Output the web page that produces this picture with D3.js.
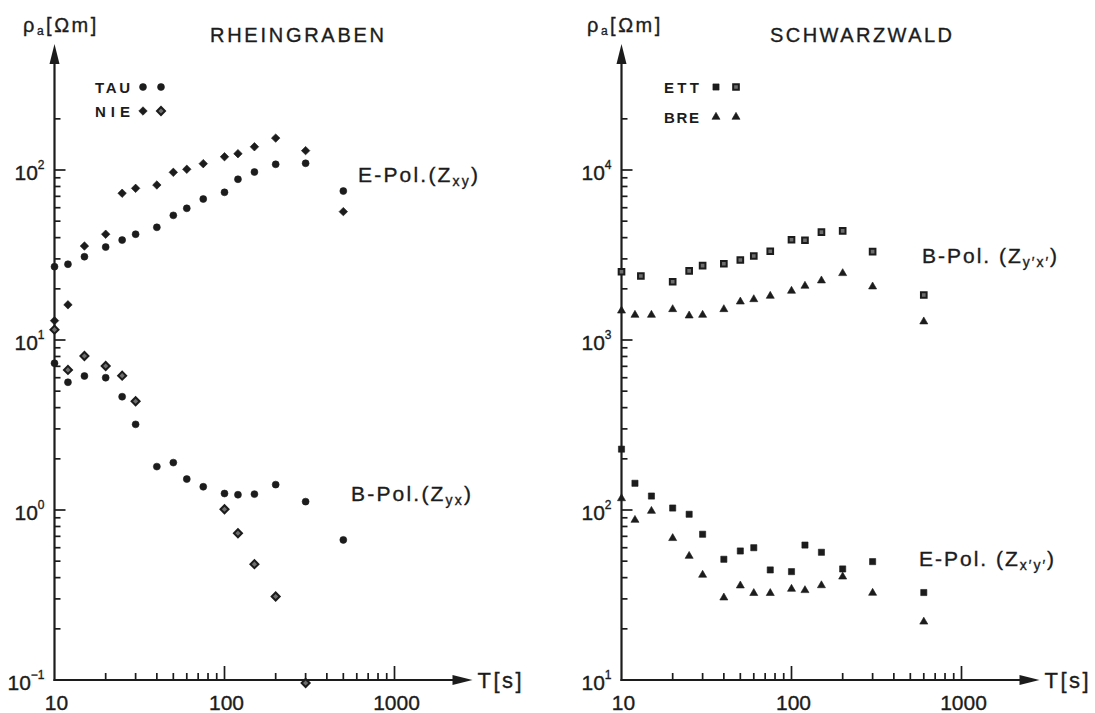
<!DOCTYPE html>
<html><head><meta charset="utf-8">
<script src="https://cdn.jsdelivr.net/npm/d3@7"></script>
<style>body{margin:0;background:#fff;}svg{display:block;}</style>
</head><body>
<script>
// ---------------- data ----------------
const periodsLeft = [10,12,15,20,25,30,40,50,60,75,100,120,150,200,300,500];
const tauEPol = [27,27.9,30.9,35.2,38.7,41.9,46,54.1,59.5,67.5,73.9,88.2,97.3,108,109.5,75.2];
const nieEPol = [13,16.1,35.7,41.9,73,78,81.6,96.9,101,109,119.7,124.7,137,154,130,56.9];
const tauBPol = [7.3,5.64,6.14,6.0,4.64,3.19,1.80,1.90,1.52,1.37,1.25,1.23,1.24,1.41,1.12,0.667];
const nieBPolPeriods = [10,12,15,20,25,30,100,120,150,200,300];
const nieBPol = [11.5,6.67,8.05,7.03,6.17,4.36,1.01,0.73,0.48,0.31,0.096];

const periodsRight = [10,12,15,20,25,30,40,50,60,75,100,120,150,200,300,600];
const ettBPolPeriods = [10,13,20,25,30,40,50,60,75,100,120,150,200,300,600];
const ettBPol = [2520,2380,2200,2550,2740,2810,2955,3120,3325,3890,3860,4310,4380,3310,1840];
const breBPol = [1486,1403,1403,1515,1390,1403,1515,1680,1734,1815,1943,2080,2235,2468,2060,1283];
const ettEPol = [228,143.6,120.8,102.7,94.4,72,51.3,57.4,60,44.4,43.4,62.2,56.4,45,49.7,32.7];
const breEPol = [117,87.3,98.6,68.2,53.6,41.5,30.5,35.9,32.4,32.4,34.3,33.7,36,40.5,32.5,22];

const xTickLabels = ["10","100","1000"];
const yExpLeft = ["-1","0","1","2"];
const yExpRight = ["1","2","3","4"];
const titles = ["RHEINGRABEN","SCHWARZWALD"];

// ---------------- setup ----------------
const W = 1095, H = 713;
const FONT = "'Liberation Sans', Arial, sans-serif";
const INK = "#1c1c1c";
const svg = d3.select("body").append("svg").attr("width", W).attr("height", H);
svg.append("rect").attr("width", W).attr("height", H).attr("fill", "#ffffff");

const panels = [
  { x: d3.scaleLog().domain([10, 1000]).range([54.5, 394.5]),
    y: d3.scaleLog().domain([0.1, 100]).range([680, 170]),
    yTickMax: 200, yExp: yExpLeft, title: titles[0], titleX: 210, titleLen: 174,
    unitX: 23, legendX: 95, legendBase: [93, 117], legendMk: [143, 161] },
  { x: d3.scaleLog().domain([10, 1000]).range([621.5, 961.5]),
    y: d3.scaleLog().domain([10, 10000]).range([680, 170]),
    yTickMax: 20000, yExp: yExpRight, title: titles[1], titleX: 770, titleLen: 182,
    unitX: 587, legendX: 664, legendBase: [93, 123], legendMk: [716, 736] }
];

function sym(type, size, open, rot) {
  return { path: d3.symbol().type(type).size(size)(), open, rot: rot || 0 };
}
const mk = {
  dot: sym(d3.symbolCircle, 38, false),
  dia: sym(d3.symbolSquare, 36, false, 45),
  diaOpen: sym(d3.symbolSquare, 32, true, 45),
  sq: sym(d3.symbolSquare, 38, false),
  sqOpen: sym(d3.symbolSquare, 32, true),
  tri: sym(d3.symbolTriangle, 28, false)
};

function drawMarker(g, m, cx, cy) {
  g.append("path").attr("d", m.path)
    .attr("transform", `translate(${cx},${cy}) rotate(${m.rot})`)
    .attr("fill", m.open ? "#6e6e6e" : INK)
    .attr("stroke", INK).attr("stroke-width", m.open ? 2 : 0.6);
}

function drawSeries(p, periods, values, m) {
  const g = svg.append("g");
  periods.forEach((t, i) => drawMarker(g, m, p.x(t), p.y(values[i])));
}

// ---------------- axes ----------------
panels.forEach(p => {
  const g = svg.append("g").attr("stroke", INK);
  const x0 = p.x(10), y0 = p.y.range()[0];
  const yTip = 44, xTip = x0 + 418;
  g.append("line").attr("x1", x0).attr("x2", x0).attr("y1", y0 + 1).attr("y2", yTip + 10).attr("stroke-width", 2.2);
  g.append("line").attr("x1", x0 - 1).attr("x2", xTip - 10).attr("y1", y0).attr("y2", y0).attr("stroke-width", 2.2);
  g.append("path").attr("d", `M${x0},${yTip} L${x0 - 5},${yTip + 20} L${x0 + 5},${yTip + 20} Z`).attr("fill", INK).attr("stroke", "none");
  g.append("path").attr("d", `M${xTip},${y0} L${xTip - 20},${y0 - 5} L${xTip - 20},${y0 + 5} Z`).attr("fill", INK).attr("stroke", "none");

  const ysc = p.y.copy().domain([p.y.domain()[0], p.yTickMax]);
  ysc.ticks().forEach(v => {
    const lg = Math.log10(v);
    const major = Math.abs(lg - Math.round(lg)) < 1e-9;
    if (v === p.y.domain()[0]) return;
    g.append("line").attr("x1", x0).attr("x2", x0 + (major ? 11 : 6))
      .attr("y1", p.y(v)).attr("y2", p.y(v)).attr("stroke-width", 1.7);
  });
  p.x.ticks().forEach(v => {
    if (v === 10) return;
    const lg = Math.log10(v);
    const major = Math.abs(lg - Math.round(lg)) < 1e-9;
    g.append("line").attr("x1", p.x(v)).attr("x2", p.x(v))
      .attr("y1", y0).attr("y2", y0 - (major ? 14 : 7)).attr("stroke-width", 1.7);
  });

  const tg = svg.append("g").attr("fill", INK).attr("font-family", FONT)
    .attr("stroke", INK).attr("stroke-width", 0.35);
  xTickLabels.forEach(s => {
    tg.append("text").attr("x", p.x(+s) + 2).attr("y", 710).attr("text-anchor", "middle")
      .attr("font-size", 21).text(s);
  });
  p.yExp.forEach(e => {
    const t = tg.append("text").attr("x", x0 - 10).attr("y", p.y(Math.pow(10, +e)) + 10)
      .attr("text-anchor", "end").attr("font-size", 21);
    t.append("tspan").text("10");
    t.append("tspan").attr("font-size", 12).attr("dy", -11).text(e === "-1" ? "\u2212" + "1" : e);
  });
  const u = tg.append("text").attr("x", p.unitX).attr("y", 32).attr("font-size", 20).attr("letter-spacing", 2.5);
  u.append("tspan").text("\u03c1");
  u.append("tspan").attr("font-size", 12).attr("dy", 3).text("a");
  u.append("tspan").attr("dy", -3).text("[\u03a9m]");
  tg.append("text").attr("x", p.titleX).attr("y", 41.5).attr("font-size", 20)
    .attr("textLength", p.titleLen).attr("lengthAdjust", "spacing").text(p.title);
  tg.append("text").attr("x", xTip + 5).attr("y", y0 + 8).attr("font-size", 22)
    .attr("textLength", 44).attr("lengthAdjust", "spacing").text("T[s]");
});

// ---------------- data marks ----------------
const L = panels[0], R = panels[1];
drawSeries(L, periodsLeft, tauEPol, mk.dot);
drawSeries(L, periodsLeft, nieEPol, mk.dia);
drawSeries(L, periodsLeft, tauBPol, mk.dot);
drawSeries(L, nieBPolPeriods, nieBPol, mk.diaOpen);
drawSeries(R, ettBPolPeriods, ettBPol, mk.sqOpen);
drawSeries(R, periodsRight, breBPol, mk.tri);
drawSeries(R, periodsRight, ettEPol, mk.sq);
drawSeries(R, periodsRight, breEPol, mk.tri);

// ---------------- legends ----------------
const legends = [
  { p: L, names: ["TAU", "NIE"], marks: [[mk.dot, mk.dot], [mk.dia, mk.diaOpen]] },
  { p: R, names: ["ETT", "BRE"], marks: [[mk.sq, mk.sqOpen], [mk.tri, mk.tri]] }
];
legends.forEach(lg => {
  const g = svg.append("g");
  lg.names.forEach((n, i) => {
    const base = lg.p.legendBase[i];
    g.append("text").attr("x", lg.p.legendX).attr("y", base).attr("font-family", FONT)
      .attr("font-size", 15).attr("font-weight", "bold").attr("fill", INK)
      .attr("textLength", 35).attr("lengthAdjust", "spacing").text(n);
    lg.marks[i].forEach((m, j) => drawMarker(g, m, lg.p.legendMk[j], base - 6));
  });
});

// ---------------- curve labels ----------------
const labels = [
  { x: 358, y: 182, main: "E-Pol.(Z", sub: "xy", end: ")", ls: 2.2 },
  { x: 351, y: 501, main: "B-Pol.(Z", sub: "yx", end: ")", ls: 2.2 },
  { x: 922, y: 263, main: "B-Pol. (Z", sub: "y\u2032x\u2032", end: ")", ls: 2.0 },
  { x: 919, y: 566, main: "E-Pol. (Z", sub: "x\u2032y\u2032", end: ")", ls: 2.0 }
];
labels.forEach(l => {
  const t = svg.append("text").attr("x", l.x).attr("y", l.y).attr("font-family", FONT)
    .attr("font-size", 21).attr("fill", INK).attr("stroke", INK).attr("stroke-width", 0.35)
    .attr("letter-spacing", l.ls);
  t.append("tspan").text(l.main);
  t.append("tspan").attr("font-size", 14).attr("dy", 4).text(l.sub);
  t.append("tspan").attr("dy", -4).text(l.end);
});
</script>
</body></html>
